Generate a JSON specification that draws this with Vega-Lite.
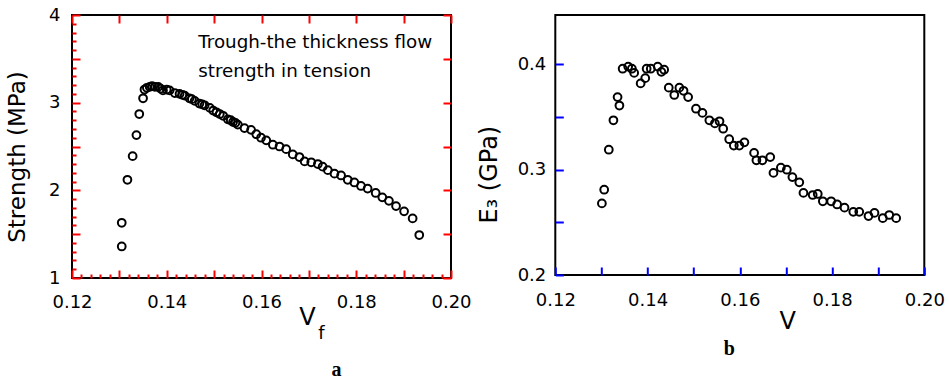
{
  "$schema": "https://vega.github.io/schema/vega-lite/v6.json",
  "background": "white",
  "padding": {"left": 5, "top": 5, "right": 0, "bottom": 0},
  "autosize": {"type": "pad"},
  "bounds": "flush",
  "spacing": 104.3,
  "datasets": {
    "strength": [
      {"vf": 0.1305, "s": 1.36}, {"vf": 0.1305, "s": 1.63}, {"vf": 0.1317, "s": 2.12}, {"vf": 0.1328, "s": 2.39},
      {"vf": 0.1336, "s": 2.63}, {"vf": 0.1342, "s": 2.87}, {"vf": 0.135, "s": 3.05}, {"vf": 0.1353, "s": 3.15},
      {"vf": 0.1358, "s": 3.17}, {"vf": 0.1364, "s": 3.18}, {"vf": 0.1369, "s": 3.19}, {"vf": 0.1375, "s": 3.18},
      {"vf": 0.1382, "s": 3.18}, {"vf": 0.1387, "s": 3.16}, {"vf": 0.1392, "s": 3.14}, {"vf": 0.14, "s": 3.15},
      {"vf": 0.1406, "s": 3.14}, {"vf": 0.1417, "s": 3.11}, {"vf": 0.1427, "s": 3.1}, {"vf": 0.1433, "s": 3.09},
      {"vf": 0.1438, "s": 3.08}, {"vf": 0.1448, "s": 3.05}, {"vf": 0.1453, "s": 3.04}, {"vf": 0.1459, "s": 3.02},
      {"vf": 0.1469, "s": 2.99}, {"vf": 0.1475, "s": 2.98}, {"vf": 0.148, "s": 2.97}, {"vf": 0.1491, "s": 2.94},
      {"vf": 0.1498, "s": 2.91}, {"vf": 0.1505, "s": 2.89}, {"vf": 0.1512, "s": 2.87}, {"vf": 0.1519, "s": 2.85},
      {"vf": 0.1529, "s": 2.81}, {"vf": 0.1535, "s": 2.8}, {"vf": 0.154, "s": 2.78}, {"vf": 0.1545, "s": 2.77},
      {"vf": 0.155, "s": 2.75}, {"vf": 0.1564, "s": 2.71}, {"vf": 0.1578, "s": 2.69}, {"vf": 0.1589, "s": 2.64},
      {"vf": 0.1599, "s": 2.6}, {"vf": 0.161, "s": 2.57}, {"vf": 0.1624, "s": 2.52}, {"vf": 0.1638, "s": 2.5},
      {"vf": 0.1652, "s": 2.47}, {"vf": 0.1666, "s": 2.41}, {"vf": 0.168, "s": 2.38}, {"vf": 0.1691, "s": 2.33},
      {"vf": 0.1705, "s": 2.32}, {"vf": 0.1719, "s": 2.3}, {"vf": 0.1729, "s": 2.27}, {"vf": 0.174, "s": 2.23},
      {"vf": 0.1754, "s": 2.19}, {"vf": 0.1768, "s": 2.17}, {"vf": 0.1782, "s": 2.12}, {"vf": 0.1796, "s": 2.09},
      {"vf": 0.181, "s": 2.05}, {"vf": 0.1824, "s": 2.02}, {"vf": 0.1841, "s": 1.97}, {"vf": 0.1855, "s": 1.92},
      {"vf": 0.1869, "s": 1.88}, {"vf": 0.1884, "s": 1.82}, {"vf": 0.1901, "s": 1.76}, {"vf": 0.1919, "s": 1.68},
      {"vf": 0.1933, "s": 1.49}
    ],
    "modulus": [
      {"vf": 0.1301, "e": 0.268}, {"vf": 0.1306, "e": 0.281}, {"vf": 0.1316, "e": 0.319}, {"vf": 0.1326, "e": 0.347},
      {"vf": 0.1335, "e": 0.369}, {"vf": 0.1339, "e": 0.361}, {"vf": 0.1346, "e": 0.396}, {"vf": 0.1358, "e": 0.398},
      {"vf": 0.1366, "e": 0.396}, {"vf": 0.1371, "e": 0.392}, {"vf": 0.1385, "e": 0.382}, {"vf": 0.1395, "e": 0.387},
      {"vf": 0.1398, "e": 0.396}, {"vf": 0.1407, "e": 0.396}, {"vf": 0.1422, "e": 0.398}, {"vf": 0.143, "e": 0.393},
      {"vf": 0.1436, "e": 0.395}, {"vf": 0.1446, "e": 0.378}, {"vf": 0.1458, "e": 0.371}, {"vf": 0.1469, "e": 0.378},
      {"vf": 0.1478, "e": 0.375}, {"vf": 0.1488, "e": 0.369}, {"vf": 0.1505, "e": 0.358}, {"vf": 0.1519, "e": 0.354},
      {"vf": 0.1534, "e": 0.347}, {"vf": 0.1546, "e": 0.344}, {"vf": 0.1556, "e": 0.346}, {"vf": 0.1564, "e": 0.339},
      {"vf": 0.1577, "e": 0.329}, {"vf": 0.1587, "e": 0.323}, {"vf": 0.1599, "e": 0.323}, {"vf": 0.161, "e": 0.326},
      {"vf": 0.1631, "e": 0.316}, {"vf": 0.1636, "e": 0.309}, {"vf": 0.1649, "e": 0.309}, {"vf": 0.1666, "e": 0.312},
      {"vf": 0.1673, "e": 0.297}, {"vf": 0.1689, "e": 0.302}, {"vf": 0.1702, "e": 0.3}, {"vf": 0.1714, "e": 0.293},
      {"vf": 0.1729, "e": 0.288}, {"vf": 0.1738, "e": 0.278}, {"vf": 0.1758, "e": 0.276}, {"vf": 0.1769, "e": 0.277},
      {"vf": 0.178, "e": 0.27}, {"vf": 0.1798, "e": 0.27}, {"vf": 0.1811, "e": 0.267}, {"vf": 0.1827, "e": 0.264},
      {"vf": 0.1846, "e": 0.26}, {"vf": 0.1859, "e": 0.26}, {"vf": 0.1879, "e": 0.256}, {"vf": 0.1892, "e": 0.259},
      {"vf": 0.191, "e": 0.254}, {"vf": 0.1924, "e": 0.257}, {"vf": 0.1939, "e": 0.254}
    ],
    "note": [
      {"vf": 0.14666, "s": 3.629, "label": "Trough-the thickness flow"},
      {"vf": 0.14666, "s": 3.292, "label": "strength in tension"}
    ]
  },
  "config": {
    "view": {"stroke": "black", "strokeWidth": 2},
    "axis": {"grid": false, "domain": false}
  },
  "hconcat": [
    {
      "width": 379, "height": 263,
      "title": {"text": "a", "orient": "bottom", "frame": "group", "anchor": "middle", "dx": 75, "offset": 18, "font": "Liberation Serif", "fontWeight": "bold", "fontSize": 20, "color": "black"},
      "resolve": {"axis": {"x": "independent", "y": "independent"}},
      "layer": [
        {
          "data": {"name": "strength"},
          "mark": {"type": "point", "shape": "circle", "filled": false, "stroke": "black", "strokeWidth": 2, "size": 60, "opacity": 1},
          "encoding": {
            "x": {"field": "vf", "type": "quantitative", "scale": {"domain": [0.12, 0.2], "nice": false, "zero": false},
              "axis": {"orient": "bottom", "tickColor": "red", "tickWidth": 2,
                "values": [0.12,0.122,0.124,0.126,0.128,0.13,0.132,0.134,0.136,0.138,0.14,0.142,0.144,0.146,0.148,0.15,0.152,0.154,0.156,0.158,0.16,0.162,0.164,0.166,0.168,0.17,0.172,0.174,0.176,0.178,0.18,0.182,0.184,0.186,0.188,0.19,0.192,0.194,0.196,0.198,0.2],
                "tickSize": {"condition": {"test": "abs(datum.value*100 - round(datum.value*100)) < 0.001", "value": -8}, "value": -4},
                "labelExpr": "abs(datum.value*50 - round(datum.value*50)) < 0.001 ? format(datum.value, '.2f') : ''",
                "labelOverlap": false, "labelFlush": false, "labelBound": false, "labelPadding": 23,
                "labelFont": "DejaVu Sans", "labelFontSize": 18, "labelColor": "black",
                "title": "V", "titleFont": "DejaVu Sans", "titleFontWeight": "normal", "titleColor": "black", "titleFontSize": 24,
                "titleX": 235, "titleY": 46.5, "titleAlign": "center", "titleBaseline": "alphabetic"}},
            "y": {"field": "s", "type": "quantitative", "scale": {"domain": [1, 4], "nice": false, "zero": false},
              "axis": {"orient": "left", "tickColor": "red", "tickWidth": 2,
                "values": [1,1.1,1.2,1.3,1.4,1.5,1.6,1.7,1.8,1.9,2,2.1,2.2,2.3,2.4,2.5,2.6,2.7,2.8,2.9,3,3.1,3.2,3.3,3.4,3.5,3.6,3.7,3.8,3.9,4],
                "tickSize": {"condition": {"test": "abs(datum.value*2 - round(datum.value*2)) < 0.001", "value": -8}, "value": -4},
                "labelExpr": "abs(datum.value - round(datum.value)) < 0.001 ? format(datum.value, 'd') : ''",
                "labelOverlap": false, "labelFlush": false, "labelBound": false, "labelPadding": 20,
                "labelFont": "DejaVu Sans", "labelFontSize": 18, "labelColor": "black",
                "title": "Strength (MPa)", "titleFont": "DejaVu Sans", "titleFontWeight": "normal", "titleColor": "black", "titleFontSize": 23,
                "titleAngle": 270, "titleX": -55, "titleY": 141.5, "titleAlign": "center", "titleBaseline": "middle"}}
          }
        },
        {
          "data": {"name": "strength"},
          "mark": {"type": "point", "opacity": 0},
          "encoding": {
            "x": {"field": "vf", "type": "quantitative",
              "axis": {"orient": "top", "labels": false, "title": null, "tickColor": "red", "tickWidth": 2, "offset": -8, "tickSize": 8,
                "values": [0.12,0.13,0.14,0.15,0.16,0.17,0.18,0.19,0.2]}},
            "y": {"field": "s", "type": "quantitative",
              "axis": {"orient": "right", "labels": false, "title": null, "tickColor": "red", "tickWidth": 2, "offset": -8, "tickSize": 8,
                "values": [1,1.5,2,2.5,3,3.5,4]}}
          }
        },
        {
          "data": {"name": "strength"},
          "mark": {"type": "point", "opacity": 0},
          "encoding": {
            "x": {"field": "vf", "type": "quantitative",
              "axis": {"orient": "bottom", "labels": false, "ticks": false, "title": "f", "titleFont": "DejaVu Sans", "titleFontWeight": "normal", "titleColor": "black", "titleFontSize": 18, "titleX": 249, "titleY": 60.3, "titleAlign": "center", "titleBaseline": "alphabetic"}},
            "y": {"field": "s", "type": "quantitative", "axis": null}
          }
        },
        {
          "data": {"name": "note"},
          "mark": {"type": "text", "align": "left", "baseline": "alphabetic", "font": "DejaVu Sans", "fontSize": 18.3, "color": "black"},
          "encoding": {
            "x": {"field": "vf", "type": "quantitative", "axis": null},
            "y": {"field": "s", "type": "quantitative", "axis": null},
            "text": {"field": "label"}
          }
        }
      ]
    },
    {
      "width": 369, "height": 260,
      "title": {"text": "b", "orient": "bottom", "frame": "group", "anchor": "middle", "dx": -10.5, "offset": 6, "font": "Liberation Serif", "fontWeight": "bold", "fontSize": 20, "color": "black"},
      "layer": [
        {
          "data": {"name": "modulus"},
          "mark": {"type": "point", "shape": "circle", "filled": false, "stroke": "black", "strokeWidth": 2, "size": 60, "opacity": 1},
          "encoding": {
            "x": {"field": "vf", "type": "quantitative", "scale": {"domain": [0.12, 0.2], "nice": false, "zero": false},
              "axis": {"orient": "bottom", "tickColor": "blue", "tickWidth": 2, "tickSize": 8, "offset": -8,
                "values": [0.12,0.13,0.14,0.15,0.16,0.17,0.18,0.19,0.2],
                "labelExpr": "abs(datum.value*50 - round(datum.value*50)) < 0.001 ? format(datum.value, '.2f') : ''",
                "labelOverlap": false, "labelFlush": false, "labelBound": false, "labelPadding": 16,
                "labelFont": "DejaVu Sans", "labelFontSize": 18, "labelColor": "black",
                "title": "V", "titleFont": "DejaVu Sans", "titleFontWeight": "normal", "titleColor": "black", "titleFontSize": 24,
                "titleX": 232, "titleY": 61.4, "titleAlign": "center", "titleBaseline": "alphabetic"}},
            "y": {"field": "e", "type": "quantitative", "scale": {"domain": [0.2, 0.447], "nice": false, "zero": false},
              "axis": {"orient": "left", "tickColor": "blue", "tickWidth": 2, "tickSize": 8, "offset": -8,
                "values": [0.2,0.25,0.3,0.35,0.4],
                "labelExpr": "abs(datum.value*10 - round(datum.value*10)) < 0.001 ? format(datum.value, '.1f') : ''",
                "labelOverlap": false, "labelFlush": false, "labelBound": false, "labelPadding": 9.5,
                "labelFont": "DejaVu Sans", "labelFontSize": 18, "labelColor": "black",
                "title": "E₃ (GPa)", "titleFont": "DejaVu Sans", "titleFontWeight": "normal", "titleColor": "black", "titleFontSize": 24,
                "titleAngle": 270, "titleX": -74, "titleY": 159.2, "titleAlign": "center", "titleBaseline": "middle"}}
          }
        }
      ]
    }
  ]
}
